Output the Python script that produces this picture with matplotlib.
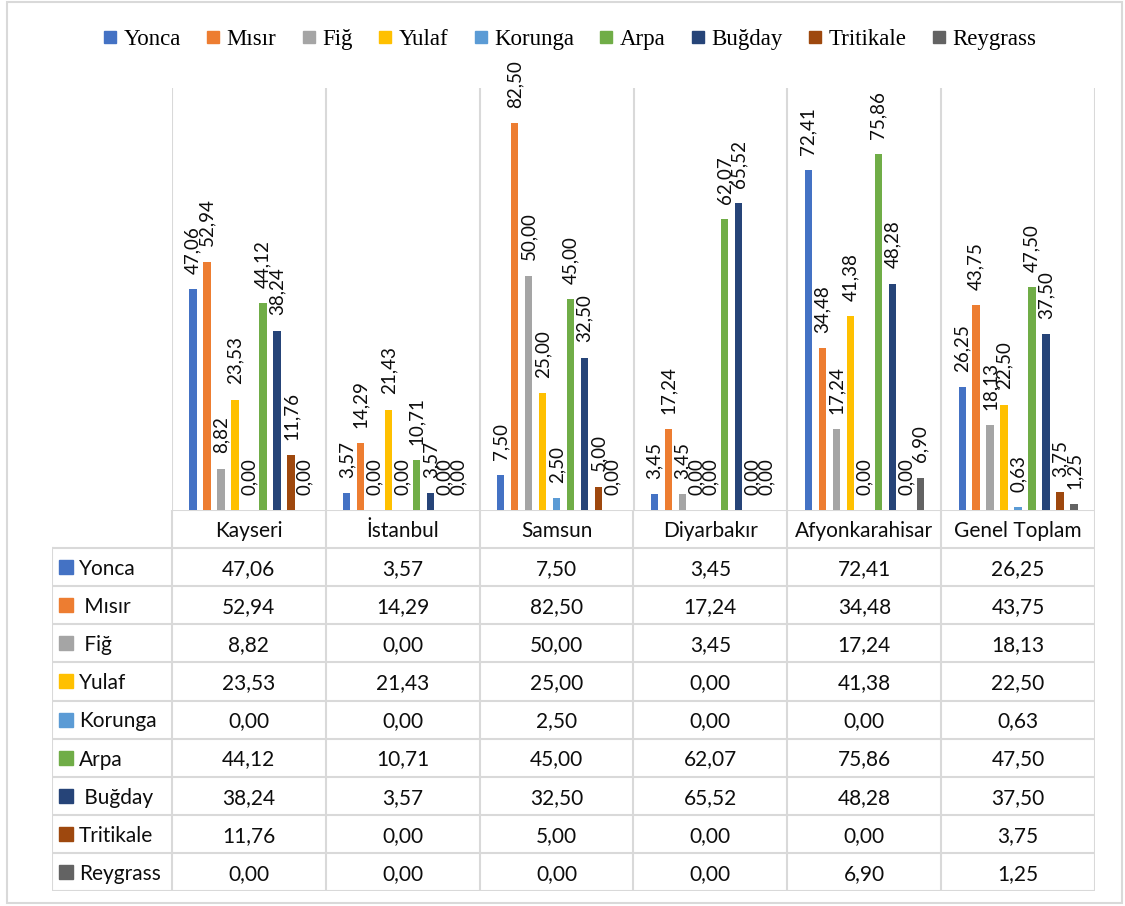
import numpy as np
import matplotlib.pyplot as plt
from matplotlib.lines import Line2D
from matplotlib.patches import Rectangle

cities = ['Kayseri', 'İstanbul', 'Samsun', 'Diyarbakır', 'Afyonkarahisar', 'Genel Toplam']
crops = ['Yonca', 'Mısır', 'Fiğ', 'Yulaf', 'Korunga', 'Arpa', 'Buğday', 'Tritikale', 'Reygrass']
table_names = ['Yonca', ' Mısır', ' Fiğ', 'Yulaf', 'Korunga', 'Arpa', ' Buğday', 'Tritikale', 'Reygrass']

yonca = [47.06, 3.57, 7.50, 3.45, 72.41, 26.25]
misir = [52.94, 14.29, 82.50, 17.24, 34.48, 43.75]
fig_ = [8.82, 0.00, 50.00, 3.45, 17.24, 18.13]
yulaf = [23.53, 21.43, 25.00, 0.00, 41.38, 22.50]
korunga = [0.00, 0.00, 2.50, 0.00, 0.00, 0.63]
arpa = [44.12, 10.71, 45.00, 62.07, 75.86, 47.50]
bugday = [38.24, 3.57, 32.50, 65.52, 48.28, 37.50]
tritikale = [11.76, 0.00, 5.00, 0.00, 0.00, 3.75]
reygrass = [0.00, 0.00, 0.00, 0.00, 6.90, 1.25]

series = [yonca, misir, fig_, yulaf, korunga, arpa, bugday, tritikale, reygrass]
colors = ['#4472C4', '#ED7D31', '#A5A5A5', '#FFC000', '#5B9BD5',
          '#70AD47', '#264478', '#9E480E', '#636363']

W, H = 1125, 906
GRID = '#d9d9d9'
FONT = 'Lato'
TXT = '#0d0d0d'

def fr(x0, y0, x1, y1):
    # pixel box -> figure rect
    return [x0 / W, 1 - y1 / H, (x1 - x0) / W, (y1 - y0) / H]

def fmt(v):
    return ('%.2f' % v).replace('.', ',')

fig = plt.figure(figsize=(W / 100, H / 100), dpi=100)

# outer frame
fig.patches.append(Rectangle((7 / W, 1 - 903 / H), 1115 / W, 901 / H,
                             transform=fig.transFigure, fill=False,
                             edgecolor=GRID, lw=1.5))

# ---- bars
ax = fig.add_axes(fr(172, 88, 1095, 510))
n = len(series)
slot = 1.0 / (n + 2)
x = np.arange(len(cities))
for j, (vals, c) in enumerate(zip(series, colors)):
    pos = x + (1.5 + j) * slot
    bars = ax.bar(pos, vals, width=slot * 0.52, color=c, zorder=3)
    for b, v in zip(bars, vals):
        ax.annotate(fmt(v), (b.get_x() + b.get_width() / 2, v),
                    xytext=(0, 11), textcoords='offset points',
                    rotation=90, ha='center', va='bottom',
                    fontsize=13.5, family=FONT, color=TXT,
                    annotation_clip=False)
ax.set_xlim(0, len(cities))
ax.set_ylim(0, 90)
for xv in range(len(cities) + 1):
    ax.axvline(xv, color=GRID, lw=1.5, zorder=1)
ax.axis('off')

# ---- data table
tx = fig.add_axes(fr(52, 510, 1095, 891))
left = -120 / 154
tx.set_xlim(left, len(cities))
tx.set_ylim(10, 0)
tx.axis('off')
tx.plot([0, len(cities)], [0, 0], color=GRID, lw=1.5)
for r in range(1, 11):
    tx.plot([left, len(cities)], [r, r], color=GRID, lw=1.5)
for xv in range(len(cities) + 1):
    tx.plot([xv, xv], [0, 10], color=GRID, lw=1.5)
tx.plot([left, left], [1, 10], color=GRID, lw=1.5)

for i, name in enumerate(cities):
    tx.text(i + 0.5, 0.55, name, ha='center', va='center',
            fontsize=15, family=FONT, color=TXT)
for j, (name, vals, c) in enumerate(zip(table_names, series, colors)):
    yc = j + 1.5
    tx.plot([left + 14.5 / 154], [yc], marker='s', markersize=9.5,
            color=c, linestyle='none')
    tx.text(left + 27 / 154, yc + 0.05, name, ha='left', va='center',
            fontsize=15, family=FONT, color=TXT)
    for i, v in enumerate(vals):
        tx.text(i + 0.5, yc + 0.05, fmt(v), ha='center', va='center',
                fontsize=15, family=FONT, color=TXT)

# ---- legend
handles = [Line2D([], [], marker='s', linestyle='none', markersize=8.8,
                  color=c, label=l) for l, c in zip(crops, colors)]
fig.legend(handles=handles, ncol=9, loc='center',
           bbox_to_anchor=(570 / W, 1 - 39 / H), frameon=False,
           prop={'family': 'Liberation Serif', 'size': 16.5},
           handlelength=0.55, handletextpad=0.3, columnspacing=1.15,
           borderpad=0)

fig.savefig('out.png', dpi=100)
